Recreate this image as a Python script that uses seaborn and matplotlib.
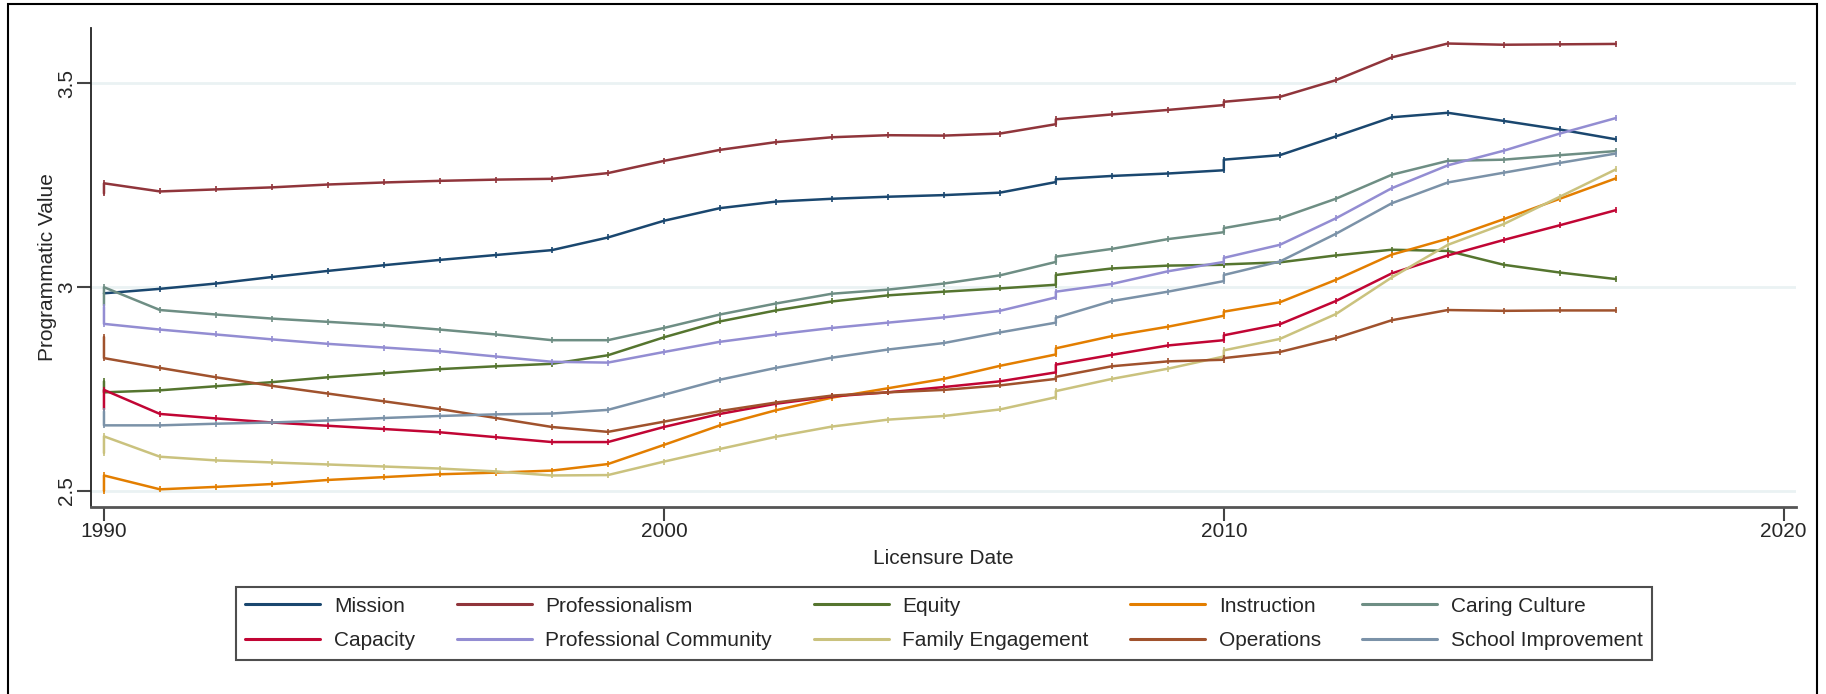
import numpy as np
import pandas as pd
import matplotlib
matplotlib.use("Agg")
import matplotlib.pyplot as plt
from matplotlib.lines import Line2D
from matplotlib.patches import Rectangle
import seaborn as sns

years = [1990, 1990, 1991, 1992, 1993, 1994, 1995, 1996, 1997, 1998,
         1999, 2000, 2001, 2002, 2003, 2004, 2005, 2006, 2007, 2007,
         2008, 2009, 2010, 2010, 2011, 2012, 2013, 2014, 2015, 2016, 2017]

mission = [2.985, 2.985, 2.996, 3.009, 3.025, 3.040, 3.054, 3.067, 3.079, 3.091,
           3.122, 3.163, 3.194, 3.210, 3.217, 3.222, 3.226, 3.232, 3.258, 3.265,
           3.273, 3.279, 3.287, 3.313, 3.324, 3.370, 3.417, 3.428, 3.408, 3.387, 3.363]
professionalism = [3.230, 3.255, 3.235, 3.240, 3.245, 3.252, 3.257, 3.261, 3.264, 3.266,
                   3.280, 3.310, 3.337, 3.356, 3.368, 3.373, 3.372, 3.377, 3.400, 3.412,
                   3.424, 3.435, 3.447, 3.455, 3.467, 3.508, 3.564, 3.598, 3.595, 3.596, 3.597]
equity = [2.769, 2.742, 2.747, 2.757, 2.767, 2.779, 2.789, 2.799, 2.806, 2.812,
          2.833, 2.877, 2.916, 2.943, 2.965, 2.980, 2.989, 2.997, 3.006, 3.030,
          3.046, 3.053, 3.055, 3.056, 3.061, 3.078, 3.092, 3.089, 3.055, 3.036, 3.020]
instruction = [2.500, 2.538, 2.504, 2.510, 2.517, 2.527, 2.534, 2.541, 2.545, 2.550,
               2.566, 2.613, 2.661, 2.698, 2.729, 2.752, 2.775, 2.807, 2.835, 2.850,
               2.880, 2.903, 2.930, 2.940, 2.963, 3.018, 3.080, 3.119, 3.167, 3.217, 3.267]
caring_culture = [2.955, 3.000, 2.944, 2.933, 2.923, 2.915, 2.907, 2.896, 2.884, 2.870,
                  2.870, 2.900, 2.933, 2.960, 2.984, 2.994, 3.009, 3.029, 3.062, 3.075,
                  3.094, 3.118, 3.135, 3.145, 3.169, 3.217, 3.276, 3.310, 3.313, 3.324, 3.334]
capacity = [2.700, 2.748, 2.689, 2.678, 2.668, 2.660, 2.652, 2.644, 2.632, 2.620,
            2.620, 2.657, 2.689, 2.714, 2.732, 2.742, 2.755, 2.769, 2.791, 2.810,
            2.834, 2.857, 2.870, 2.882, 2.909, 2.966, 3.034, 3.078, 3.116, 3.152, 3.189]
prof_community = [2.952, 2.910, 2.896, 2.884, 2.872, 2.861, 2.852, 2.843, 2.830, 2.817,
                  2.815, 2.841, 2.866, 2.884, 2.900, 2.913, 2.926, 2.942, 2.975, 2.989,
                  3.008, 3.039, 3.062, 3.072, 3.104, 3.169, 3.243, 3.299, 3.335, 3.377, 3.415]
family_engagement = [2.593, 2.634, 2.584, 2.575, 2.570, 2.565, 2.560, 2.555, 2.548, 2.538,
                     2.539, 2.572, 2.603, 2.633, 2.658, 2.675, 2.684, 2.700, 2.730, 2.745,
                     2.775, 2.800, 2.830, 2.845, 2.873, 2.934, 3.024, 3.104, 3.155, 3.222, 3.289]
operations = [2.878, 2.826, 2.802, 2.779, 2.758, 2.739, 2.720, 2.701, 2.679, 2.657,
              2.645, 2.670, 2.696, 2.717, 2.734, 2.742, 2.748, 2.759, 2.775, 2.780,
              2.806, 2.818, 2.822, 2.826, 2.841, 2.875, 2.919, 2.944, 2.942, 2.943, 2.943]
school_improvement = [2.695, 2.661, 2.661, 2.665, 2.668, 2.673, 2.679, 2.684, 2.688, 2.690,
                      2.699, 2.736, 2.773, 2.802, 2.827, 2.847, 2.863, 2.889, 2.913, 2.925,
                      2.966, 2.989, 3.015, 3.030, 3.063, 3.131, 3.206, 3.257, 3.281, 3.305, 3.328]

names = ["Mission", "Professionalism", "Equity", "Instruction", "Caring Culture",
         "Capacity", "Professional Community", "Family Engagement", "Operations",
         "School Improvement"]
series = [mission, professionalism, equity, instruction, caring_culture,
          capacity, prof_community, family_engagement, operations, school_improvement]
# Stata s2color palette
colors = ["#1a476f", "#90353b", "#55752f", "#e37e00", "#6e8e84",
          "#c10534", "#938dd2", "#cac27e", "#a0522d", "#7b92a8"]

y_ticks = [2.5, 3, 3.5]
y_ticklabels = ["2.5", "3", "3.5"]
x_ticks = [1990, 2000, 2010, 2020]

# LONG FORMAT
frames = []
for name, vals in zip(names, series):
    frames.append(pd.DataFrame({"year": years, "value": vals, "domain": name}))
df = pd.concat(frames, ignore_index=True)

# PLOT
sns.set_theme(style="white")
plt.rcParams["font.family"] = ["Liberation Sans", "DejaVu Sans"]

fig = plt.figure(figsize=(18.26, 6.94), dpi=100)
ax = fig.add_axes([0.0501, 0.2699, 0.9335, 0.6893])

for y in y_ticks:
    ax.axhline(y, color="#eaf2f3", lw=2, zorder=0)

sns.lineplot(data=df, x="year", y="value", hue="domain", hue_order=names,
             palette=dict(zip(names, colors)), estimator=None, sort=False,
             marker="|", markersize=5, markeredgewidth=1.2, lw=1.8,
             legend=False, ax=ax)

# seaborn paints marker edges white; give the tick marks the line colour
for line in ax.lines:
    if line.get_marker() == "|":
        line.set_markeredgecolor(line.get_color())

ax.set_xlim(1989.777, 2020.22)
ax.set_ylim(2.4614, 3.6353)
ax.set_xticks(x_ticks)
ax.set_yticks(y_ticks)
ax.set_yticklabels(y_ticklabels)
plt.setp(ax.get_yticklabels(), rotation=90, va="center")
ax.tick_params(axis="both", which="major", direction="out", length=10, width=1.5,
               color="#444444", labelsize=15, pad=1, left=True, bottom=True)

sns.despine(ax=ax)
ax.spines["left"].set_color("#222222")
ax.spines["left"].set_linewidth(1.3)
ax.spines["bottom"].set_color("#555555")
ax.spines["bottom"].set_linewidth(2)

ax.set_xlabel("Licensure Date", fontsize=15, labelpad=6)
ax.set_ylabel("Programmatic Value", fontsize=15, labelpad=0)

# LEGEND (row-major order like the reference)
handles = [Line2D([0], [0], color=c, lw=2.2) for c in colors]
idx = [0, 5, 1, 6, 2, 7, 3, 8, 4, 9]
leg = fig.legend([handles[i] for i in idx], [names[i] for i in idx],
                 loc="center", bbox_to_anchor=(0.517, 0.1016), ncol=5,
                 fontsize=15, frameon=True, fancybox=False, edgecolor="#222222",
                 handlelength=3.6, handletextpad=0.65, columnspacing=2.0,
                 labelspacing=0.75, borderpad=0.45)
leg.get_frame().set_linewidth(1.5)

# OUTER FRAME
fig.patches.append(Rectangle((8 / 1826, -0.05), (1817 - 8) / 1826, 1.05 - 4 / 694,
                             fill=False, lw=1.5, edgecolor="black",
                             transform=fig.transFigure))

plt.savefig("out.png", dpi=100)
